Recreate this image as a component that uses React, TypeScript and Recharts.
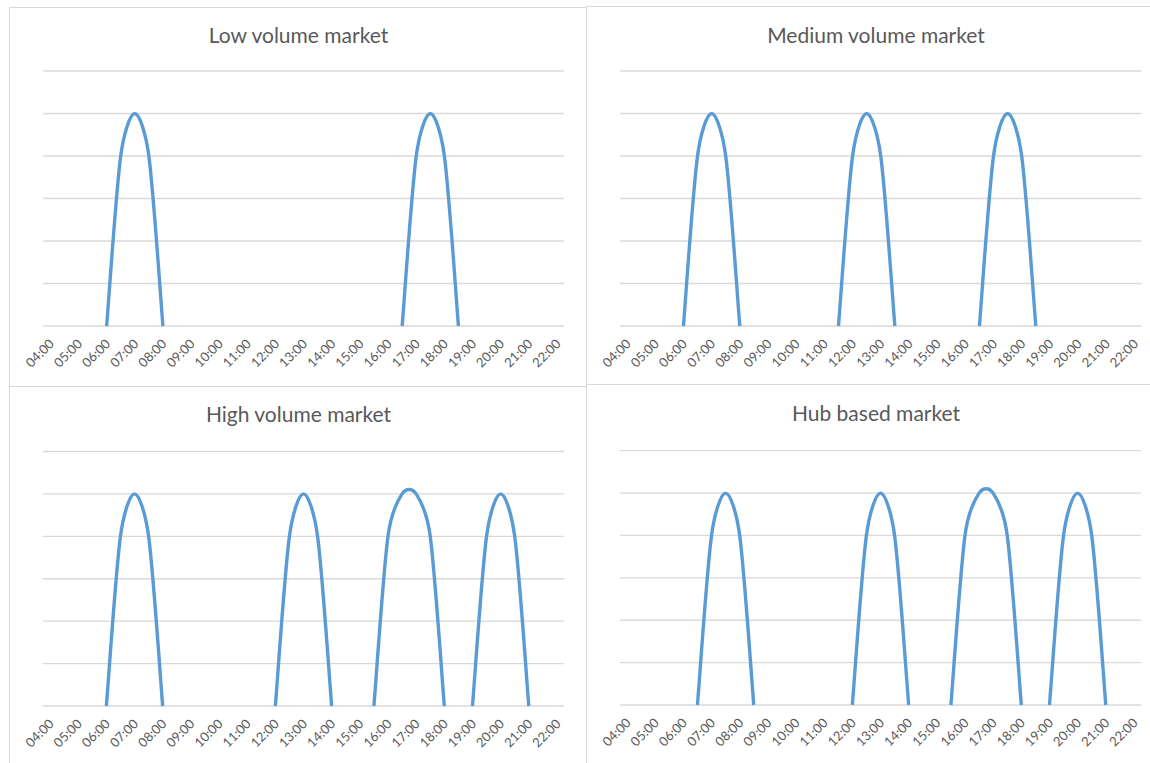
import React from "react";
import { LineChart, Line, XAxis, YAxis, CartesianGrid } from "recharts";

// Half-hour categories of the source data
const TIME_LABELS = [
  "04:00", "04:30", "05:00", "05:30", "06:00", "06:30", "07:00", "07:30",
  "08:00", "08:30", "09:00", "09:30", "10:00", "10:30", "11:00", "11:30",
  "12:00", "12:30", "13:00", "13:30", "14:00", "14:30", "15:00", "15:30",
  "16:00", "16:30", "17:00", "17:30", "18:00", "18:30", "19:00", "19:30",
  "20:00", "20:30", "21:00", "21:30", "22:00",
];

// Axis tick labels (every hour)
const TICK_LABELS = [
  "04:00", "05:00", "06:00", "07:00", "08:00", "09:00", "10:00", "11:00",
  "12:00", "13:00", "14:00", "15:00", "16:00", "17:00", "18:00", "19:00",
  "20:00", "21:00", "22:00",
];

const Y_TICKS = [0, 1, 2, 3, 4, 5, 6];

const N = null;
const LOW_VOLUME = [
  N, N, N, N, 0, 4, 5, 4, 0, N, N, N, N, N, N, N, N, N, N, N, N, N, N, N, N,
  0, 4, 5, 4, 0, N, N, N, N, N, N, N,
];
const MEDIUM_VOLUME = [
  N, N, N, N, 0, 4, 5, 4, 0, N, N, N, N, N, N, 0, 4, 5, 4, 0, N, N, N, N, N,
  0, 4, 5, 4, 0, N, N, N, N, N, N, N,
];
const HIGH_VOLUME = [
  N, N, N, N, 0, 4, 5, 4, 0, N, N, N, N, N, N, N, 0, 4, 5, 4, 0, N, N, 0, 4,
  5, 5, 4, 0, N, 0, 4, 5, 4, 0, N, N,
];
const HUB_BASED = [
  N, N, N, N, N, 0, 4, 5, 4, 0, N, N, N, N, N, N, 0, 4, 5, 4, 0, N, N, 0, 4,
  5, 5, 4, 0, N, 0, 4, 5, 4, 0, N, N,
];

const TITLES = [
  "Low volume market",
  "Medium volume market",
  "High volume market",
  "Hub based market",
];

const toHours = (s: string) => {
  const [h, m] = s.split(":").map(Number);
  return h + m / 60;
};
const TICK_HOURS = TICK_LABELS.map(toHours);

const FONT = "Lato, 'Open Sans', sans-serif";
const TEXT = "#595959";
const GRID = "#d9d9d9";
const LINE = "#5b9bd5";

// Spreadsheet-style smoothed line: Bezier segments with 1/6 tangents,
// arms clamped to half the segment length.
const smoothCurve = (context: any) => {
  let pts: [number, number][] = [];
  const dist = (a: [number, number], b: [number, number]) =>
    Math.hypot(b[0] - a[0], b[1] - a[1]);
  return {
    areaStart() {},
    areaEnd() {},
    lineStart() {
      pts = [];
    },
    point(x: number, y: number) {
      pts.push([+x, +y]);
    },
    lineEnd() {
      const n = pts.length;
      if (n === 0) return;
      context.moveTo(pts[0][0], pts[0][1]);
      if (n === 1) return;
      for (let i = 0; i < n - 1; i++) {
        const p1 = pts[i];
        const p2 = pts[i + 1];
        const p0 = i > 0 ? pts[i - 1] : p1;
        const p3 = i + 2 < n ? pts[i + 2] : p2;
        const d02 = dist(p0, p2);
        const d12 = dist(p1, p2);
        const d13 = dist(p1, p3);
        let f = 1 / 6;
        let g = 1 / 6;
        if (d02 > 0 && d02 / 6 >= d12 / 2) f = d12 / (2 * d02);
        if (d13 > 0 && d13 / 6 >= d12 / 2) g = d12 / (2 * d13);
        context.bezierCurveTo(
          p1[0] + f * (p2[0] - p0[0]),
          p1[1] + f * (p2[1] - p0[1]),
          p2[0] - g * (p3[0] - p1[0]),
          p2[1] - g * (p3[1] - p1[1]),
          p2[0],
          p2[1]
        );
      }
    },
  };
};

const HourTick = (props: any) => {
  const { x, y, payload } = props;
  const idx = TICK_HOURS.indexOf(payload.value);
  const label = idx >= 0 ? TICK_LABELS[idx] : "";
  const tx = x + 1;
  return (
    <text
      x={tx}
      y={y}
      transform={`rotate(-45, ${tx}, ${y})`}
      textAnchor="end"
      dominantBaseline="central"
      fill={TEXT}
      fontSize={13}
      fontFamily={FONT}
    >
      {label}
    </text>
  );
};

type Layout = {
  left: number; top: number; width: number; height: number;
  plotLeft: number; plotTop: number; plotRight: number; plotBottom: number;
  titleX: number; titleY: number;
};

const LAYOUTS: Layout[] = [
  { left: 9, top: 7, width: 577, height: 379, plotLeft: 43.3, plotTop: 71, plotRight: 564, plotBottom: 326, titleX: 298.5, titleY: 43 },
  { left: 587, top: 6, width: 563, height: 379, plotLeft: 620, plotTop: 71, plotRight: 1141.5, plotBottom: 326, titleX: 876, titleY: 43 },
  { left: 9, top: 386, width: 577, height: 377, plotLeft: 43, plotTop: 451.5, plotRight: 564, plotBottom: 706, titleX: 298.5, titleY: 422 },
  { left: 587, top: 384, width: 563, height: 379, plotLeft: 620, plotTop: 450.7, plotRight: 1141, plotBottom: 705, titleX: 876, titleY: 421 },
];

const SERIES = [LOW_VOLUME, MEDIUM_VOLUME, HIGH_VOLUME, HUB_BASED];

const buildData = (values: (number | null)[]) =>
  TIME_LABELS.map((t, i) => ({ x: toHours(t), v: values[i] }));

const Panel = ({ layout, values }: { layout: Layout; values: (number | null)[] }) => {
  const data = buildData(values);
  const margin = {
    top: layout.plotTop - layout.top,
    left: layout.plotLeft - layout.left,
    right: layout.left + layout.width - layout.plotRight,
    bottom: 0,
  };
  const xAxisHeight = layout.top + layout.height - layout.plotBottom;
  return (
    <div style={{ position: "absolute", left: layout.left, top: layout.top, width: layout.width, height: layout.height }}>
      <LineChart width={layout.width} height={layout.height} data={data} margin={margin}>
        <CartesianGrid vertical={false} stroke={GRID} strokeWidth={1.3} />
        <XAxis
          dataKey="x"
          type="number"
          domain={[3.75, 22.25]}
          ticks={TICK_HOURS}
          interval={0}
          tick={<HourTick />}
          tickSize={0}
          tickMargin={15}
          tickLine={false}
          axisLine={false}
          height={xAxisHeight}
          allowDataOverflow
        />
        <YAxis type="number" domain={[0, 6]} ticks={Y_TICKS} hide />
        <Line
          dataKey="v"
          type={smoothCurve as any}
          stroke={LINE}
          strokeWidth={3.4}
          dot={false}
          activeDot={false}
          connectNulls={false}
          isAnimationActive={false}
          strokeLinejoin="round"
        />
      </LineChart>
    </div>
  );
};

const BORDER = "#d9d9d9";

export default function App() {
  const lines = [
    { left: 9, top: 7, width: 1, height: 756 },
    { left: 586, top: 6, width: 1, height: 757 },
    { left: 9, top: 7, width: 577, height: 1 },
    { left: 586, top: 6, width: 564, height: 1 },
    { left: 9, top: 386, width: 577, height: 1 },
    { left: 586, top: 384, width: 564, height: 1 },
  ];
  return (
    <div style={{ position: "absolute", left: 0, top: 0, width: 1150, height: 763, overflow: "hidden", background: "#ffffff" }}>
      {lines.map((l, i) => (
        <div key={i} style={{ position: "absolute", ...l, background: BORDER }} />
      ))}
      {LAYOUTS.map((layout, i) => (
        <Panel key={i} layout={layout} values={SERIES[i]} />
      ))}
      <svg width={1150} height={763} style={{ position: "absolute", left: 0, top: 0, pointerEvents: "none" }}>
        {LAYOUTS.map((layout, i) => (
          <text key={i} x={layout.titleX} y={layout.titleY} textAnchor="middle" fill={TEXT} fontSize={21} fontFamily={FONT}>
            {TITLES[i]}
          </text>
        ))}
      </svg>
    </div>
  );
}
